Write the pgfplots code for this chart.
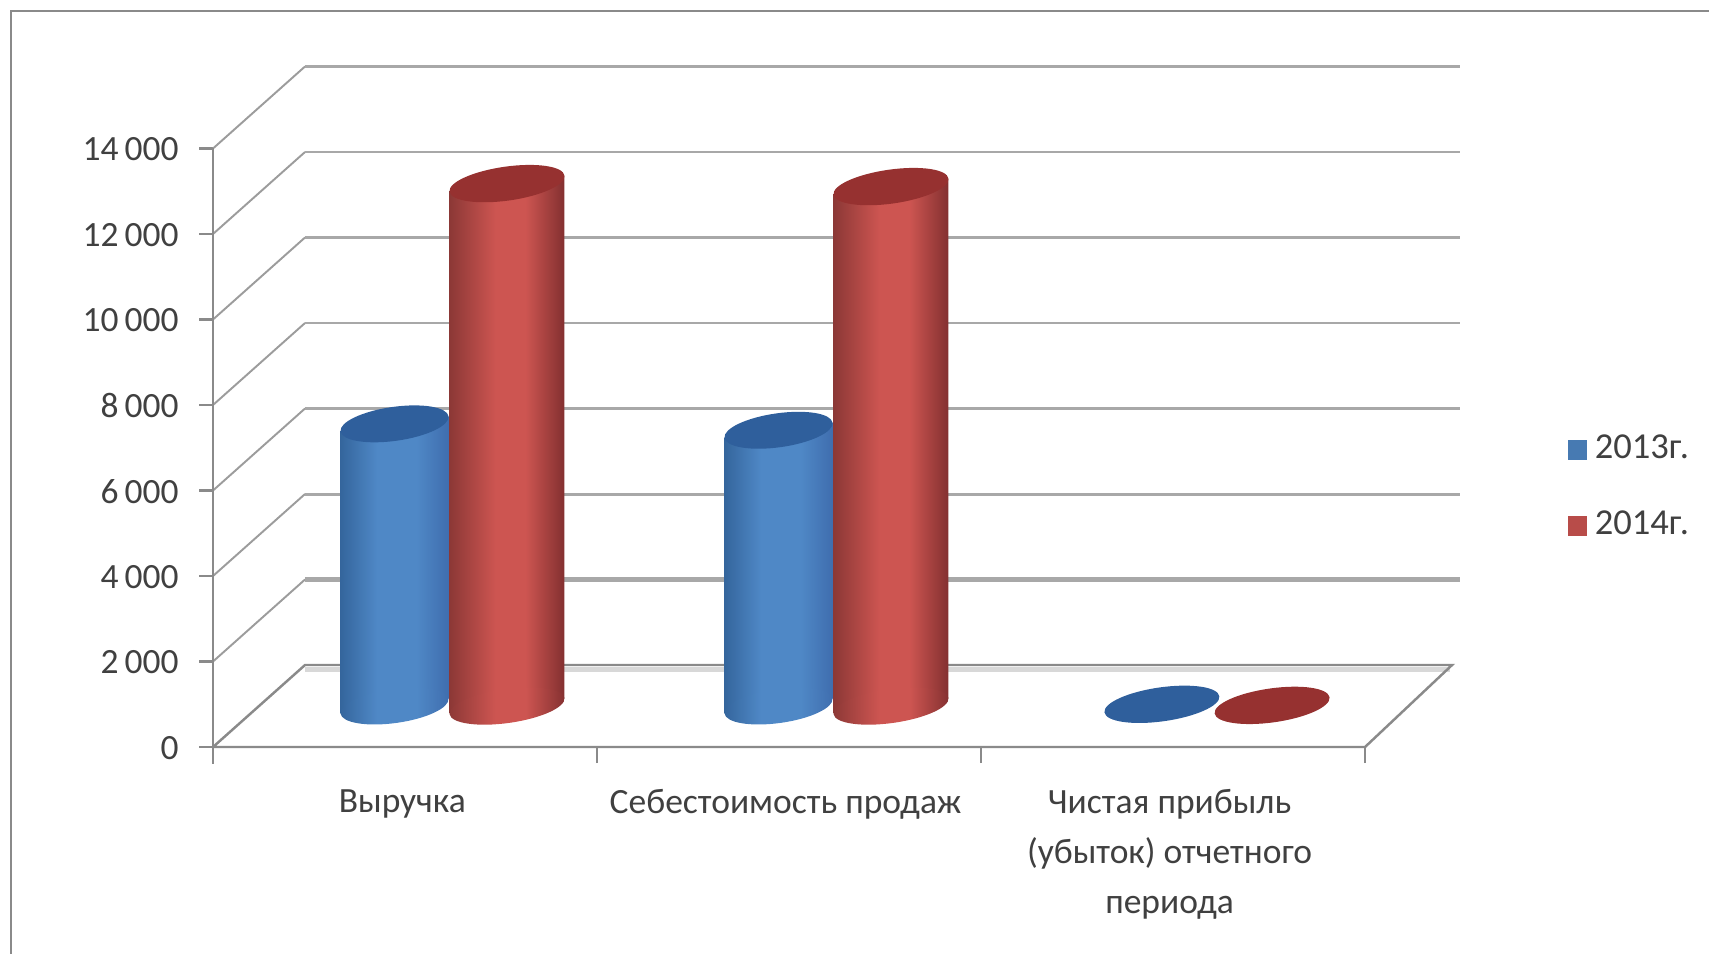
\documentclass[border=0pt]{standalone}
\usepackage{fontspec}
\setmainfont{Carlito}
\usepackage{pgfplots}
\pgfplotsset{compat=1.18}

\definecolor{gridc}{HTML}{A8A8A8}
\definecolor{diagc}{HTML}{9C9C9C}
\definecolor{axisc}{HTML}{8A8A8A}
\definecolor{textc}{HTML}{404040}
\definecolor{bluedark}{HTML}{34659C}
\definecolor{bluemid}{HTML}{4F88C6}
\definecolor{blueright}{HTML}{3F6DAE}
\definecolor{bluecap}{HTML}{2F5F9C}
\definecolor{reddark}{HTML}{8C3836}
\definecolor{redmid}{HTML}{CD5551}
\definecolor{redright}{HTML}{833030}
\definecolor{redcap}{HTML}{963130}

\pgfdeclarehorizontalshading{bluebase}{100bp}{color(0bp)=(bluedark); color(25bp)=(bluedark); color(42bp)=(bluemid); color(60bp)=(bluemid); color(75bp)=(blueright); color(100bp)=(blueright)}
\pgfdeclarehorizontalshading{redbase}{100bp}{color(0bp)=(reddark); color(25bp)=(reddark); color(45bp)=(redmid); color(58bp)=(redmid); color(75bp)=(redright); color(100bp)=(redright)}

% cylinder ends, tilted because of the 3D view
\newcommand{\capellipse}[1]{\pgftransformrotate{8}\pgfpathellipse{\pgfpointorigin}{\pgfpoint{#1}{0cm}}{\pgfpoint{0cm}{0.17cm}}}
\pgfdeclareplotmark{captop-b}{\pgfsetfillcolor{bluecap}\capellipse{0.545cm}\pgfusepathqfill}
\pgfdeclareplotmark{captop-bflat}{\pgfsetfillcolor{bluecap}\capellipse{0.58cm}\pgfusepathqfill}
\pgfdeclareplotmark{captop-r}{\pgfsetfillcolor{redcap}\capellipse{0.58cm}\pgfusepathqfill}
\pgfdeclareplotmark{capbase-b}{\capellipse{0.545cm}\pgfshadepath{bluebase}{0}\pgfusepath{discard}}
\pgfdeclareplotmark{capbase-r}{\capellipse{0.58cm}\pgfshadepath{redbase}{0}\pgfusepath{discard}}

% side of a cylinder: centre x, half width, value, shading
\newcommand{\cylbody}[4]{%
  \pgfmathsetmacro{\xl}{#1-#2}\pgfmathsetmacro{\xr}{#1+#2}%
  \pgfmathsetmacro{\yl}{#3-173}\pgfmathsetmacro{\yr}{#3+173}%
  \addplot[draw=none,shade,shading=#4] coordinates {(\xl,\yl) (\xl,-173) (\xr,173) (\xr,\yr)} --cycle;
}

\begin{document}
\begin{tikzpicture}
\begin{axis}[
    scale only axis, width=12.39cm, height=6.805cm,
    xmin=0, xmax=3.2266, ymin=-959, ymax=14959,
    clip=false,
    axis line style={draw=none},
    xtick pos=bottom, ytick pos=left, tick align=outside,
    scaled y ticks=false,
    ytick={-959,1041,3041,5041,7041,9041,11041,13041},
    yticklabels={0,2\,000,4\,000,6\,000,8\,000,10\,000,12\,000,14\,000},
    xtick={0.493,1.491,2.491},
    xticklabels={Выручка,Себестоимость продаж,{Чистая прибыль\\(убыток) отчетного\\периода}},
    minor xtick={0,1,2,3},
    major tick length=0.14cm, minor tick length=0.16cm,
    major x tick style={draw=none},
    minor x tick style={axisc,line width=0.6pt},
    y tick style={axisc,line width=0.6pt},
    tick label style={font=\fontsize{10.1}{14.2}\selectfont,text=textc},
    xticklabel style={align=center,yshift=-0.16cm},
    yticklabel style={xshift=-0.08cm,yshift=-0.01cm},
    every axis plot/.append style={forget plot},
    legend style={at={(axis cs:3.50,6600)},anchor=north west,draw=none,fill=none,
        font=\fontsize{10.4}{11}\selectfont,text=textc,row sep=0.40cm,
        nodes={inner sep=1pt},/tikz/column 1/.style={column sep=0.04cm}},
    legend cell align=left,
    legend image code/.code={\fill[draw=none,#1] (0cm,-0.1cm) rectangle (0.19cm,0.1cm);},
]
% picture edges and frame
\path (axis cs:-0.5547,-5825) rectangle (axis cs:3.9036,16515);
\addplot[axisc,line width=0.8pt] coordinates {(-0.526,-5800) (-0.526,16257) (3.895,16257)};

% side wall lines
\addplot[diagc,line width=0.55pt] coordinates {(0,1041) (0.2396,2959)};
\addplot[diagc,line width=0.55pt] coordinates {(0,3041) (0.2396,4959)};
\addplot[diagc,line width=0.55pt] coordinates {(0,5041) (0.2396,6959)};
\addplot[diagc,line width=0.55pt] coordinates {(0,7041) (0.2396,8959)};
\addplot[diagc,line width=0.55pt] coordinates {(0,9041) (0.2396,10959)};
\addplot[diagc,line width=0.55pt] coordinates {(0,11041) (0.2396,12959)};
\addplot[diagc,line width=0.55pt] coordinates {(0,13041) (0.2396,14959)};

% back wall lines
\addplot[gridc,line width=1.4pt] coordinates {(0.2396,2959) (3.2474,2959)};
\addplot[gridc,line width=0.85pt] coordinates {(0.2396,4959) (3.2474,4959)};
\addplot[gridc,line width=0.85pt] coordinates {(0.2396,6959) (3.2474,6959)};
\addplot[gridc,line width=0.85pt] coordinates {(0.2396,8959) (3.2474,8959)};
\addplot[gridc,line width=0.85pt] coordinates {(0.2396,10959) (3.2474,10959)};
\addplot[gridc,line width=0.85pt] coordinates {(0.2396,12959) (3.2474,12959)};
\addplot[gridc,line width=0.85pt] coordinates {(0.2396,14959) (3.2474,14959)};

% floor and axes
\addplot[gridc!45,line width=1.4pt] coordinates {(0.2396,860) (3.22,860)};
\addplot[axisc,line width=0.7pt] coordinates {(0,-959) (0.2396,959) (3.2266,959) (3,-959) (0,-959)};
\addplot[axisc,line width=0.7pt] coordinates {(0,-1350) (0,13041)};

% 2013
\addplot[only marks,mark=capbase-b] coordinates {(0.4727,0) (1.4727,0)};
\cylbody{0.4727}{0.142}{6600}{bluebase}
\cylbody{1.4727}{0.142}{6450}{bluebase}
\addplot[only marks,mark=captop-b] coordinates {(0.4727,6600) (1.4727,6450)};

% 2014
\addplot[only marks,mark=capbase-r] coordinates {(0.7656,0) (1.7656,0)};
\cylbody{0.7656}{0.1495}{12220}{redbase}
\cylbody{1.7656}{0.1495}{12150}{redbase}
\addplot[only marks,mark=captop-r] coordinates {(0.7656,12220) (1.7656,12150) (2.758,15)};
\addplot[only marks,mark=captop-bflat] coordinates {(2.471,40)};

\addlegendimage{fill=bluemid!90!black}
\addlegendentry{2013г.}
\addlegendimage{fill=redmid!90!black}
\addlegendentry{2014г.}
\end{axis}
\end{tikzpicture}
\end{document}
